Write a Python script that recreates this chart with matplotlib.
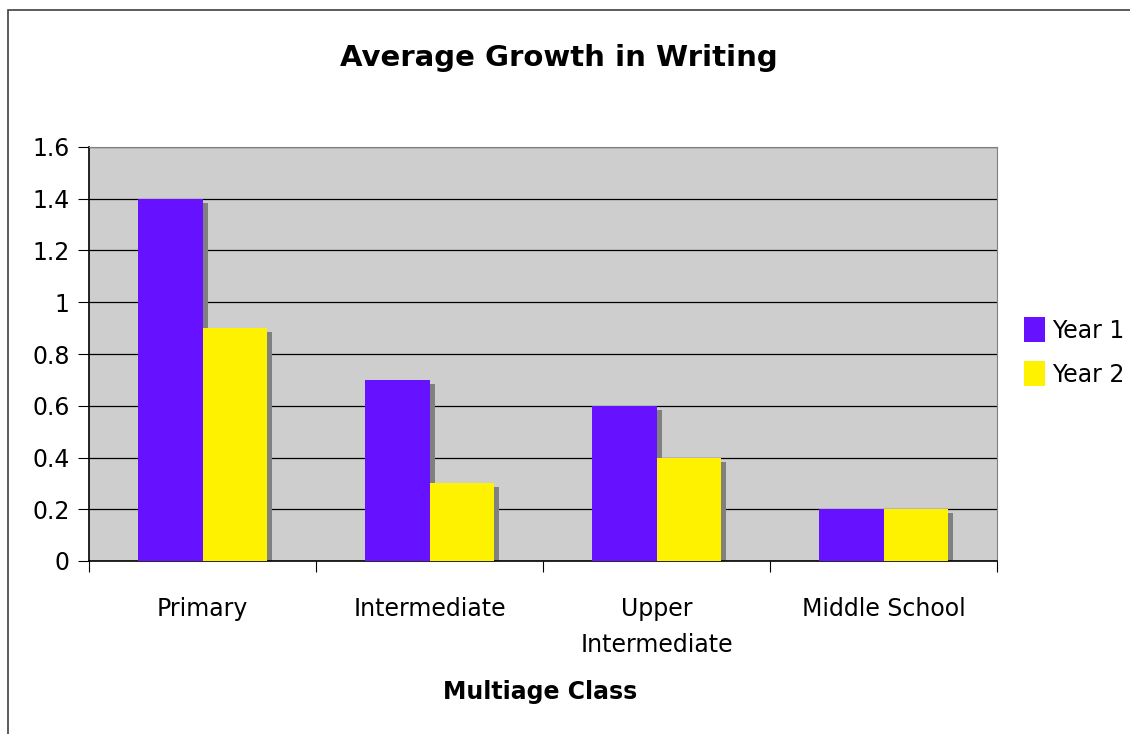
import matplotlib
matplotlib.use("Agg")
import matplotlib.pyplot as plt
import matplotlib.transforms as mtransforms
from matplotlib.patches import Rectangle
import numpy as np

classes = ["Primary", "Intermediate", "Upper\nIntermediate", "Middle School"]
year1 = [1.4, 0.7, 0.6, 0.2]
year2 = [0.9, 0.3, 0.4, 0.2]
series_names = ["Year 1", "Year 2"]

purple = "#6611FF"
yellow = "#FFF200"
shadow = "#808080"

plt.rcParams['font.family'] = ['DejaVu Sans']

fig = plt.figure(figsize=(11.3, 7.34), dpi=100)
ax = fig.add_axes([89 / 1130, 1 - 561 / 734, (997 - 89) / 1130, (561 - 147) / 734])

# outer chart border
fig.patches.append(Rectangle((8 / 1130, -0.05), 1.1, 1 - 10 / 734 + 0.05,
                             transform=fig.transFigure, fill=False,
                             edgecolor="#404040", linewidth=1.2))

x = np.arange(len(classes))
w = 0.286

# drop shadows, offset a few pixels right and down
shade = mtransforms.offset_copy(ax.transData, fig=fig, x=5, y=-4, units='dots')
for xs, vals in ((x - w / 2, year1), (x + w / 2, year2)):
    ax.bar(xs, vals, w, color=shadow, transform=shade, zorder=2, linewidth=0)

ax.bar(x - w / 2, year1, w, color=purple, label=series_names[0], zorder=3, linewidth=0)
ax.bar(x + w / 2, year2, w, color=yellow, label=series_names[1], zorder=3, linewidth=0)

ax.set_facecolor("#CECECE")
ax.set_xlim(-0.5, len(classes) - 0.5)
ax.set_ylim(0, 1.6)
ax.set_yticks(np.arange(0, 1.61, 0.2))
ax.set_yticklabels(["0", "0.2", "0.4", "0.6", "0.8", "1", "1.2", "1.4", "1.6"])
ax.yaxis.grid(True, color="black", linewidth=0.9, zorder=1)
ax.set_axisbelow(True)

ax.set_xticks(np.arange(-0.5, len(classes), 1.0))
ax.set_xticklabels([])
ax.set_xticks(x, minor=True)
ax.set_xticklabels(classes, minor=True, fontsize=17, linespacing=1.6)
ax.tick_params(axis='x', which='minor', length=0, pad=26)
ax.tick_params(axis='x', which='major', length=8, direction='out', color="black")
ax.tick_params(axis='y', length=8, labelsize=17, pad=6)

for side in ("top", "right"):
    ax.spines[side].set_color("#808080")
for side in ("left", "bottom"):
    ax.spines[side].set_color("black")
    ax.spines[side].set_linewidth(1.2)

fig.text(559 / 1130, 1 - 58 / 734, "Average Growth in Writing",
         ha="center", va="center", fontsize=21, fontweight="bold")
fig.text(540 / 1130, 1 - 692 / 734, "Multiage Class",
         ha="center", va="center", fontsize=17, fontweight="bold")

fig.legend(loc="center left", bbox_to_anchor=(1012 / 1130, 1 - 352 / 734),
           frameon=False, fontsize=17, handlelength=0.9, handleheight=1.2,
           handletextpad=0.3, labelspacing=0.8, borderpad=0)

fig.savefig("out.png", dpi=100)
